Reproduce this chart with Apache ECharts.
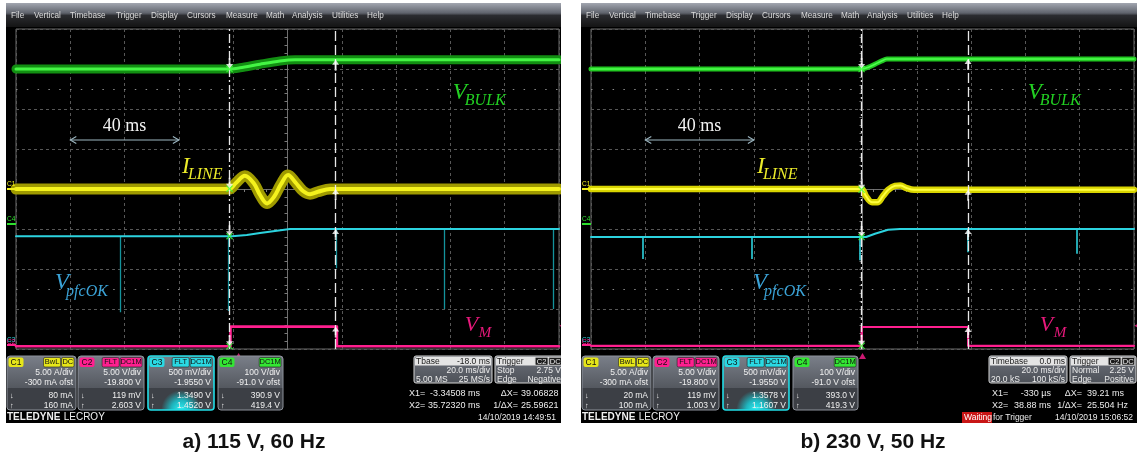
<!DOCTYPE html>
<html>
<head>
<meta charset="utf-8">
<title>PFC scope captures</title>
<script src="https://cdn.jsdelivr.net/npm/echarts/dist/echarts.min.js"></script>
<style>
html,body{margin:0;padding:0;background:#ffffff;overflow:hidden;}
#chart{width:1137px;height:460px;}
</style>
</head>
<body>
<div id="chart"></div>
<script>
// ================= DATA =================
// time: ms from screen centre (20 ms/div) ; level: divisions from screen centre
const captions = ['a) 115 V, 60 Hz', 'b) 230 V, 50 Hz'];
const triggerPos = [-18.0, 0.0];              // trigger point on screen (Tbase)
const cursorsA = [-3.34508, 35.72320];        // X1, X2 relative to trigger
const cursorsB = [-0.330, 38.88];

// --- panel a) 115 V, 60 Hz ---
const vbulkA = [[-100,3.0],[-21.3,3.0],[-17.5,3.03],[-10.1,3.12],[-2.8,3.2],[2.8,3.23],[100,3.23]];
const ilineA = [[-100,0],[-21.5,0],[-19.0,0.15],[-15.7,0.33],[-12.3,0.13],[-10.1,-0.15],[-7.5,-0.36],[-5.0,-0.2],[-2.4,0.12],[0.2,0.35],[3.1,0.15],[5.7,-0.05],[8.3,-0.13],[11.2,-0.07],[15.7,0],[100,0]];
const pfcokA = [[-100,-1.18],[-20.4,-1.18],[-15,-1.15],[-10.1,-1.1],[-4.6,-1.05],[0.9,-1.0],[100,-1.0]];
const pfcokSpikesA = [[-61.7,-3.08],[-21.9,-3.05],[17.9,-1.98],[57.6,-3.0],[97.8,-3.0]];
const vmA = [[-100,-3.93],[-21.0,-3.93],[-21.0,-3.44],[18.2,-3.44],[18.2,-3.93],[100,-3.93]];

// --- panel b) 230 V, 50 Hz ---
const vbulkB = [[-100,3.0],[-0.3,3.0],[2,3.04],[4.6,3.12],[7,3.2],[9,3.25],[100,3.25]];
const ilineB = [[-100,0],[-0.5,0],[1.3,-0.18],[3.5,-0.33],[5.5,-0.33],[7.5,-0.18],[9.5,-0.02],[12,0.08],[14,0.09],[16,0.03],[19,-0.02],[100,-0.02]];
const pfcokB = [[-100,-1.2],[1.3,-1.2],[4.6,-1.12],[9.4,-1.02],[13.8,-1.0],[100,-1.0]];
const pfcokSpikesB = [[-80.8,-1.75],[-40.7,-1.75],[-1.0,-1.78],[38.9,-1.58],[79.0,-1.62]];
const vmB = [[-100,-3.92],[-0.3,-3.92],[-0.3,-3.45],[38.9,-3.45],[38.9,-3.92],[100,-3.92]];

// --- annotations (chart coordinates) ---
const spanArrow = {from:-80, to:-40, level:1.225, text:'40 ms', textLevel:1.575};
const menuItems = ['File','Vertical','Timebase','Trigger','Display','Cursors','Measure','Math','Analysis','Utilities','Help'];
const chanA = [
  {ch:'C1', tags:['BwL','DC'], rows:['5.00 A/div','-300 mA ofst','80 mA','160 mA']},
  {ch:'C2', tags:['FLT','DC1M'], rows:['5.00 V/div','-19.800 V','119 mV','2.603 V']},
  {ch:'C3', tags:['FLT','DC1M'], rows:['500 mV/div','-1.9550 V','1.3490 V','1.4520 V']},
  {ch:'C4', tags:['DC1M'], rows:['100 V/div','-91.0 V ofst','390.9 V','419.4 V']}
];
const chanB = [
  {ch:'C1', tags:['BwL','DC'], rows:['5.00 A/div','-300 mA ofst','20 mA','100 mA']},
  {ch:'C2', tags:['FLT','DC1M'], rows:['5.00 V/div','-19.800 V','119 mV','1.003 V']},
  {ch:'C3', tags:['FLT','DC1M'], rows:['500 mV/div','-1.9550 V','1.3578 V','1.1607 V']},
  {ch:'C4', tags:['DC1M'], rows:['100 V/div','-91.0 V ofst','393.0 V','419.3 V']}
];
const timebaseA = [['Tbase','-18.0 ms'],['','20.0 ms/div'],['5.00 MS','25 MS/s']];
const timebaseB = [['Timebase','0.0 ms'],['','20.0 ms/div'],['20.0 kS','100 kS/s']];
const triggerA = [['Trigger',''],['Stop','2.75 V'],['Edge','Negative']];
const triggerB = [['Trigger',''],['Normal','2.25 V'],['Edge','Positive']];
const readoutA = [['X1=','-3.34508 ms','ΔX=','39.06828 ms'],['X2=','35.72320 ms','1/ΔX=','25.59621 Hz']];
const readoutB = [['X1=','-330 µs','ΔX=','39.21 ms'],['X2=','38.88 ms','1/ΔX=','25.504 Hz']];
const dates = ['14/10/2019 14:49:51','14/10/2019 15:06:52'];

// ================= STYLE / LAYOUT =================
const SANS = "'Liberation Sans', Arial, sans-serif";
const SERIF = "'Liberation Serif', 'Times New Roman', serif";
const DX = [0, 575];
const GRIDS = [{left:16, top:29, width:543, height:320},{left:591, top:29, width:543, height:320}];
const COL = {green:'#2ee02e', yellow:'#f2f01c', cyan:'#2cd3df', magenta:'#ff1f8f'};
const ARROW_DOWN = 'path://M3,0L5,0L5,6L8,6L4,11L0,6L3,6Z';
const ARROW_UP = 'path://M4,0L8,5L5,5L5,11L3,11L3,5L0,5Z';
const XMARK = 'path://M0,1L1,0L4,3L7,0L8,1L5,4L8,7L7,8L4,5L1,8L0,7L3,4Z';

function valueAt(s, t){
  for (let i=0;i<s.length-1;i++){
    const a=s[i], b=s[i+1];
    if (t>=a[0] && t<=b[0] && b[0]>a[0]) return a[1]+(b[1]-a[1])*(t-a[0])/(b[0]-a[0]);
  }
  return s[s.length-1][1];
}

function panelSeries(g, d){
  const base = {xAxisIndex:g, yAxisIndex:g, silent:true, animation:false};
  const L = (data, color, width, extra) => Object.assign({type:'line', data, symbol:'none', showSymbol:false,
      lineStyle:{color, width, cap:'round', join:'round'}, z:4}, base, extra||{});
  const S = [];
  const trig = triggerPos[g];
  const c1 = trig + d.cursors[0], c2 = trig + d.cursors[1];
  if (g===0){
    S.push(L(d.vbulk,'#128f12',9,{smooth:0.3}));
    S.push(L(d.vbulk,'#44f544',3,{smooth:0.3}));
    S.push(L(d.iline,'#9f9a00',11,{smooth:0.35}));
    S.push(L(d.iline,'#f4f21c',4,{smooth:0.35}));
  } else {
    S.push(L(d.vbulk,'#22c822',5,{smooth:0.3}));
    S.push(L(d.vbulk,'#4dff4d',1.6,{smooth:0.3}));
    S.push(L(d.iline,'#d8d400',6.5,{smooth:0.35}));
    S.push(L(d.iline,'#ffff40',2,{smooth:0.35}));
  }
  S.push(L(d.pfcok, COL.cyan, 2));
  S.push(Object.assign({type:'lines', coordinateSystem:'cartesian2d', polyline:false,
      data: d.spikes.map(sp => ({coords:[[sp[0], valueAt(d.pfcok, sp[0])],[sp[0], sp[1]]]})),
      lineStyle:{color: g===0 ? '#14939c' : COL.cyan, width: g===0 ? 1.3 : 1.6, opacity:1}, z:4}, base));
  S.push(L(d.vm, COL.magenta, g===0 ? 2.6 : 2.2, {
    markLine:{symbol:'none', silent:true, animation:false, label:{show:false},
      lineStyle:{color:'#e8e8e8', width:1.3},
      data:[
        {xAxis:c1, lineStyle:{type:[9,3,2,3], color:'#e8e8e8', width:1.3}},
        {xAxis:c2, lineStyle:{type:[10,4], color:'#e8e8e8', width:1.3}},
        {yAxis:2.5, lineStyle:{type:[1.5,9.3], color:'#8a8a8a', width:1}},
        {yAxis:-2.5, lineStyle:{type:[1.5,9.3], color:'#8a8a8a', width:1}}
      ]}
  }));
  const traces = [d.vbulk, d.iline, d.pfcok, d.vm];
  S.push(Object.assign({type:'scatter', data: traces.map(tr => [c1, valueAt(tr, c1)]), symbol:ARROW_DOWN,
      symbolSize:[7,11], symbolOffset:[0,'-50%'], itemStyle:{color:'#ffffff'}, z:8, clip:false}, base));
  S.push(Object.assign({type:'scatter', data: traces.map(tr => [c2, valueAt(tr, c2)]), symbol:ARROW_UP,
      symbolSize:[7,11], symbolOffset:[0,'50%'], itemStyle:{color:'#ffffff'}, z:8, clip:false}, base));
  S.push(Object.assign({type:'scatter', data: traces.map(tr => [c1, valueAt(tr, c1)]), symbol:XMARK,
      symbolSize:7, itemStyle:{color:'#3dff3d'}, z:9, clip:false}, base));
  S.push(Object.assign({type:'scatter', data:[[trig,-4]], symbol:'triangle', symbolSize:[7,6], symbolOffset:[0,7],
      itemStyle:{color:COL.magenta}, z:9, clip:false}, base));
  S.push(Object.assign({type:'scatter', data:[[100,-3.42]], symbol:'triangle', symbolRotate:90, symbolSize:[6,5], symbolOffset:[3,0],
      itemStyle:{color:COL.magenta}, z:9, clip:false}, base));
  return S;
}

const panelData = [
  {vbulk:vbulkA, iline:ilineA, pfcok:pfcokA, spikes:pfcokSpikesA, vm:vmA, cursors:cursorsA},
  {vbulk:vbulkB, iline:ilineB, pfcok:pfcokB, spikes:pfcokSpikesB, vm:vmB, cursors:cursorsB}
];

const axisCommon = {
  axisLabel:{show:false},
  axisLine:{show:true, onZero:true, lineStyle:{color:'#6e6e6e', width:1}},
  axisTick:{show:true, length:3, lineStyle:{color:'#7a7a7a'}},
  minorTick:{show:true, splitNumber:5, length:3, lineStyle:{color:'#7a7a7a'}},
  splitLine:{show:true, lineStyle:{color:'#575757', type:[3,3], width:1}}
};

const option = {
  animation:false,
  backgroundColor:'#ffffff',
  grid: GRIDS.map(g => ({left:g.left, top:g.top, width:g.width, height:g.height, show:true,
      borderColor:'#6b6b6b', borderWidth:1, backgroundColor:'transparent'})),
  xAxis: [0,1].map(i => Object.assign({gridIndex:i, type:'value', min:-100, max:100, interval:20}, axisCommon)),
  yAxis: [0,1].map(i => Object.assign({gridIndex:i, type:'value', min:-4, max:4, interval:1}, axisCommon)),
  series: [].concat(panelSeries(0, panelData[0]), panelSeries(1, panelData[1]))
};

const chart = echarts.init(document.getElementById('chart'), null, {renderer:'canvas', width:1137, height:460});
chart.setOption(option);

// ================= GRAPHIC OVERLAYS =================
const G = [];
const P = (g, t, d) => chart.convertToPixel({gridIndex:g}, [t, d]);
function rect(x,y,w,h,fill,o){ o=o||{}; return {type:'rect', silent:true, z:o.z!=null?o.z:10,
  shape:{x,y,width:w,height:h,r:o.r||0}, style:{fill:fill, stroke:o.stroke||null, lineWidth:o.lw||1}}; }
function text(x,y,s,o){ o=o||{}; return {type:'text', x, y, silent:true, z:o.z!=null?o.z:12,
  style:{text:s, fill:o.fill||'#ececec', font:(o.style||'normal')+' '+(o.weight||'normal')+' '+(o.size||8.5)+'px '+(o.family||SANS),
  align:o.align||'left', verticalAlign:o.va||'middle', textAlign:o.align||'left', textVerticalAlign:o.va||'middle'}}; }

const tagColors = {C1:'#e6e619', C2:'#ff1f8f', C3:'#2ad9e3', C4:'#33e633'};
function chanBox(x, y, w, c, glow){
  const h = 54, col = tagColors[c.ch];
  G.push(rect(x, y, w, 32, new echarts.graphic.LinearGradient(0,0,0,1,[{offset:0,color:'#7a7f89'},{offset:1,color:'#54585f'}]), {r:[3,3,0,0]}));
  G.push(rect(x, y+32, w, h-32, glow ? new echarts.graphic.RadialGradient(0.5,1,0.9,[{offset:0,color:'#2ff2f7'},{offset:0.5,color:'#1fb4bd'},{offset:1,color:'#3d4147'}]) : '#3c3f45', {r:[0,0,3,3]}));
  G.push(rect(x, y, w, h, 'none', {r:3, stroke: glow ? '#22dde6' : '#8d929b', lw: glow ? 1.6 : 1, z:11}));
  G.push(rect(x+1.5, y+1.5, 15, 9.5, col, {r:2, z:12}));
  G.push(text(x+9, y+6.3, c.ch, {fill:'#111', align:'center', size:8.5, z:13}));
  let rx = x + w - 2;
  for (let i=c.tags.length-1;i>=0;i--){
    const tw = c.tags[i].length*4.7 + 3;
    rx -= tw;
    G.push(rect(rx, y+1.5, tw, 9.5, col, {r:1.5, z:12, stroke:'#222', lw:0.6}));
    G.push(text(rx+tw/2, y+6.3, c.tags[i], {fill:'#111', align:'center', size:7.5, z:13}));
    rx -= 1;
  }
  const ry = [y+17, y+27, y+40, y+49.5];
  c.rows.forEach((r,i) => G.push(text(x+w-3, ry[i], r, {align:'right', size:8.5, fill:'#f0f0f0'})));
  G.push(text(x+3, ry[2], '↓', {size:7.5, fill:'#f0f0f0'}));
  G.push(text(x+3, ry[3], '↑', {size:7.5, fill:'#f0f0f0'}));
}
function infoBox(x, y, w, rows, tags){
  G.push(rect(x, y, w, 27, new echarts.graphic.LinearGradient(0,0,0,1,[{offset:0,color:'#6c7079'},{offset:1,color:'#4d5158'}]), {r:2}));
  G.push(rect(x+1, y+1, w-2, 8.5, '#e4e4e4', {r:[2,2,0,0]}));
  G.push(rect(x, y, w, 27, 'none', {r:2, stroke:'#d6d6d6', lw:1, z:11}));
  G.push(text(x+2, y+5.5, rows[0][0], {fill:'#1a1a1a', size:8.5}));
  if (rows[0][1]) G.push(text(x+w-2, y+5.5, rows[0][1], {fill:'#1a1a1a', size:8.5, align:'right'}));
  if (tags){
    let rx = x + w - 1.5;
    for (let i=tags.length-1;i>=0;i--){
      const tw = tags[i].length*4.8+3; rx -= tw;
      G.push(rect(rx, y+1.5, tw, 7.5, '#1b1b1b', {r:1, z:12, stroke:'#bbb', lw:0.6}));
      G.push(text(rx+tw/2, y+5.5, tags[i], {fill:'#f2f2f2', size:7.5, align:'center', z:13}));
      rx -= 1;
    }
  }
  for (let i=1;i<rows.length;i++){
    const yy = y + 5.5 + i*9;
    if (rows[i][0]) G.push(text(x+2, yy, rows[i][0], {size:8.5}));
    G.push(text(x+w-2, yy, rows[i][1], {size:8.5, align:'right'}));
  }
}
function subLabel(g, t, d, main, sub, color, fsM, fsS, dx, dy){
  const [x,y] = P(g,t,d);
  G.push(text(x, y, main, {fill:color, style:'italic', size:fsM, family:SERIF, z:15}));
  G.push(text(x+dx, y+dy, sub, {fill:color, style:'italic', size:fsS, family:SERIF, z:15}));
}

const menuX = [5, 28, 64, 110, 145, 181, 220, 260, 286, 326, 361];
const readPos = [{x0:409, v1r:480, l2r:518, v2l:521}, {x0:992, v1r:1051, l2r:1082, v2l:1087}];
[0,1].forEach(p => {
  const dx = DX[p], X0 = 6 + dx, PW = p ? 556 : 555;
  G.push(rect(X0, 3, PW, 420, '#000000', {z:-10}));
  G.push(rect(X0, 3, PW, 24, new echarts.graphic.LinearGradient(0,0,0,1,[{offset:0,color:'#a2a6b0'},{offset:0.42,color:'#5f636c'},{offset:0.52,color:'#2b2c30'},{offset:1,color:'#141414'}]), {z:-9}));
  menuItems.forEach((m,i) => G.push(text(X0 + menuX[i], 15.5, m, {size:8.2, fill:'#dcdcdc'})));

  const mk = [['C1',0,COL.yellow,-5],['C4',-0.875,COL.green,-5],['C3',-3.9,COL.cyan,-5],['C2',-3.9,COL.magenta,-3]];
  mk.forEach(m => {
    const [, y] = P(p, -100, m[1]);
    G.push(rect(X0+1, y-1, 9, 2, m[2], {z:6}));
    G.push(text(X0+1, y+m[3], m[0], {fill:m[2], size:6.5, z:6}));
  });

  subLabel(p, 60.9, 2.41, 'V', 'BULK', '#22d022', 23, 16, 12, 8.5);
  subLabel(p, -38.9, 0.54, 'I', 'LINE', '#ecec2a', 23, 16, 6, 7.5);
  subLabel(p, p===0 ? -85.6 : -40.3, -2.36, 'V', 'pfcOK', '#3aa2d6', 23, 16, 11, 8);
  subLabel(p, 65.3, -3.4, 'V', 'M', '#e8197c', 22, 15, 14, 8.5);

  const [ax1, ay] = P(p, spanArrow.from, spanArrow.level);
  const [ax2] = P(p, spanArrow.to, spanArrow.level);
  const ac = '#9db7c2';
  G.push({type:'line', silent:true, z:14, shape:{x1:ax1, y1:ay, x2:ax2, y2:ay}, style:{stroke:ac, lineWidth:1.1}});
  G.push({type:'polyline', silent:true, z:14, shape:{points:[[ax1+6,ay-3.5],[ax1,ay],[ax1+6,ay+3.5]]}, style:{stroke:ac, lineWidth:1.1, fill:null}});
  G.push({type:'polyline', silent:true, z:14, shape:{points:[[ax2-6,ay-3.5],[ax2,ay],[ax2-6,ay+3.5]]}, style:{stroke:ac, lineWidth:1.1, fill:null}});
  const [tx, ty] = P(p, (spanArrow.from+spanArrow.to)/2, spanArrow.textLevel);
  G.push(text(tx, ty, spanArrow.text, {family:SERIF, size:18, fill:'#f2f2f2', align:'center', z:14}));

  const chans = p ? chanB : chanA;
  const bx = [7, 78, 148, 218], bw = [69, 66, 66, 65];
  chans.forEach((c,i) => chanBox(bx[i]+dx, 356, bw[i], c, c.ch==='C3'));
  G.push({type:'text', x:7+dx, y:417, silent:true, z:12, style:{text:'{b|TELEDYNE} {n|LECROY}', fill:'#f0f0f0', align:'left', verticalAlign:'middle',
    rich:{b:{font:'bold 10px '+SANS, fill:'#f0f0f0'}, n:{font:'normal 10px '+SANS, fill:'#f0f0f0'}}}});

  infoBox(414+dx, 356, 78, p ? timebaseB : timebaseA, null);
  infoBox(495+dx, 356, p ? 66 : 68, p ? triggerB : triggerA, ['C2','DC']);
  const ro = p ? readoutB : readoutA, rp = readPos[p];
  ro.forEach((r,i) => {
    const yy = 394 + i*12;
    G.push(text(rp.x0, yy, r[0], {size:9}));
    G.push(text(rp.v1r, yy, r[1], {size:9, align:'right'}));
    G.push(text(rp.l2r, yy, r[2], {size:9, align:'right'}));
    G.push(text(rp.v2l, yy, r[3], {size:9}));
  });
  if (p){
    G.push(rect(962, 412, 30, 11, '#c81515', {z:11}));
    G.push(text(964, 417.5, 'Waiting', {size:8.5, fill:'#ffffff'}));
    G.push(text(993, 417.5, 'for Trigger', {size:8.5}));
  }
  G.push(text(556+dx + (p?2:0), 417.5, dates[p], {size:8.5, align:'right'}));
});
// white gap between the two screenshots (clips text running past the left screen edge)
G.push(rect(561, 0, 20, 430, '#ffffff', {z:40}));
// captions
G.push(text(254, 442, captions[0], {weight:'bold', size:21, fill:'#111111', align:'center', z:12}));
G.push(text(873, 442, captions[1], {weight:'bold', size:21, fill:'#111111', align:'center', z:12}));

chart.setOption({graphic:{elements:G}});
</script>
</body>
</html>
